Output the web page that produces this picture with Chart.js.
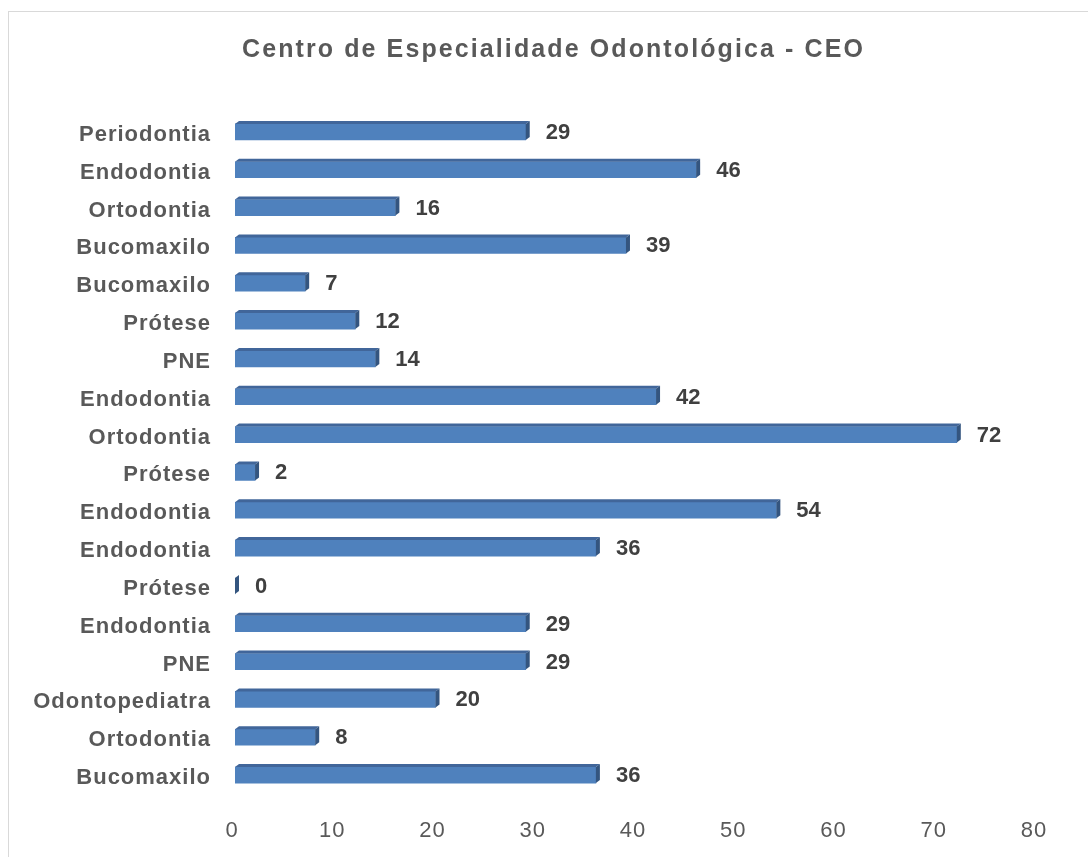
<!DOCTYPE html>
<html>
<head>
<meta charset="utf-8">
<script src="https://cdn.jsdelivr.net/npm/chart.js@4.4.1/dist/chart.umd.min.js"></script>
<style>
  html, body { margin: 0; padding: 0; background: #fff; }
  #wrap { position: relative; width: 1088px; height: 857px; overflow: hidden; }
  #frame { position: absolute; left: 8px; top: 11px; width: 1100px; height: 900px; border: 1px solid #d9d9d9; box-sizing: border-box; }
  #myChart { position: absolute; left: 0; top: 0; }
</style>
</head>
<body>
<div id="wrap">
  <div id="frame"></div>
  <canvas id="myChart" width="1088" height="857"></canvas>
</div>
<script>
// dados (de cima para baixo)
const categorias = ['Periodontia', 'Endodontia', 'Ortodontia', 'Bucomaxilo', 'Bucomaxilo', 'Prótese', 'PNE',
    'Endodontia', 'Ortodontia', 'Prótese', 'Endodontia', 'Endodontia', 'Prótese', 'Endodontia', 'PNE',
    'Odontopediatra', 'Ortodontia', 'Bucomaxilo']
const valores = [29, 46, 16, 39, 7, 12, 14, 42, 72, 2, 54, 36, 0, 29, 29, 20, 8, 36]
const ticksX = [0, 10, 20, 30, 40, 50, 60, 70, 80]

const fonte = "'Liberation Sans', Arial, sans-serif"
const fonteEixo = "'Liberation Sans Narrow', 'Liberation Sans', Arial, sans-serif"

// efeito 3D + rotulos de dados
const barras3d = {
    id: 'barras3d',
    afterLayout(chart) {
        // titulo centrado na pagina toda (como no original)
        if (chart.titleBlock) chart.titleBlock.left += 70
    },
    beforeDraw(chart) {
        // titulo um pouco espaçado como no original
        chart.ctx.letterSpacing = '2.1px'
    },
    afterDatasetsDraw(chart) {
        const ctx = chart.ctx
        const meta = chart.getDatasetMeta(0)
        ctx.save()
        ctx.letterSpacing = '0px'
        meta.data.forEach((bar, i) => {
            const h = bar.height
            const top = bar.y - h / 2
            const left = bar.base
            const right = bar.x
            const dx = 4, dy = 3
            // face superior
            ctx.fillStyle = '#41669a'
            ctx.beginPath()
            ctx.moveTo(left, top)
            ctx.lineTo(left + dx, top - dy)
            ctx.lineTo(right + dx, top - dy)
            ctx.lineTo(right, top)
            ctx.closePath()
            ctx.fill()
            // face lateral
            ctx.fillStyle = '#34557f'
            ctx.beginPath()
            ctx.moveTo(right, top)
            ctx.lineTo(right + dx, top - dy)
            ctx.lineTo(right + dx, top + h - dy)
            ctx.lineTo(right, top + h)
            ctx.closePath()
            ctx.fill()
            // rotulo
            ctx.fillStyle = '#404040'
            ctx.font = 'bold 22px ' + fonte
            ctx.textAlign = 'left'
            ctx.textBaseline = 'middle'
            ctx.fillText(String(valores[i]), right + dx + 16, bar.y + 1)
        })
        ctx.restore()
        // rotulos dos eixos (z: 1) desenhados depois
        ctx.letterSpacing = '1px'
    },
    afterDraw(chart) {
        chart.ctx.letterSpacing = '0px'
    }
}

const data_chart = {
    labels: categorias,
    datasets: [{
        data: valores,
        backgroundColor: '#4f81bd',
        borderWidth: 0,
        barThickness: 16
    }]
}

const config = {
    type: 'bar',
    data: data_chart,
    options: {
        indexAxis: 'y',
        responsive: false,
        animation: false,
        layout: { padding: { left: 0, right: 51, top: 0, bottom: 0 } },
        plugins: {
            legend: { display: false },
            tooltip: { enabled: false },
            title: {
                display: true,
                text: 'Centro de Especialidade Odontológica - CEO',
                color: '#595959',
                font: { family: fonte, size: 25, weight: 'bold' },
                padding: { top: 35, bottom: 48 }
            }
        },
        scales: {
            x: {
                min: 0,
                max: 80,
                grid: { display: false },
                border: { display: false },
                afterBuildTicks: (scale) => { scale.ticks = ticksX.map(v => ({ value: v })) },
                afterFit: (scale) => { scale.height = 63 },
                ticks: {
                    z: 1,
                    color: '#595959',
                    font: { family: fonteEixo, size: 22 },
                    padding: 16,
                    labelOffset: -3,
                    maxRotation: 0
                }
            },
            y: {
                grid: { display: false },
                border: { display: false },
                afterFit: (scale) => { scale.width = 235 },
                ticks: {
                    z: 1,
                    color: '#595959',
                    font: { family: fonte, size: 22, weight: 'bold' },
                    padding: 16,
                    labelOffset: 3,
                    autoSkip: false
                }
            }
        }
    },
    plugins: [barras3d]
}

let myChart = new Chart(document.getElementById('myChart').getContext('2d'), config)
</script>
</body>
</html>
